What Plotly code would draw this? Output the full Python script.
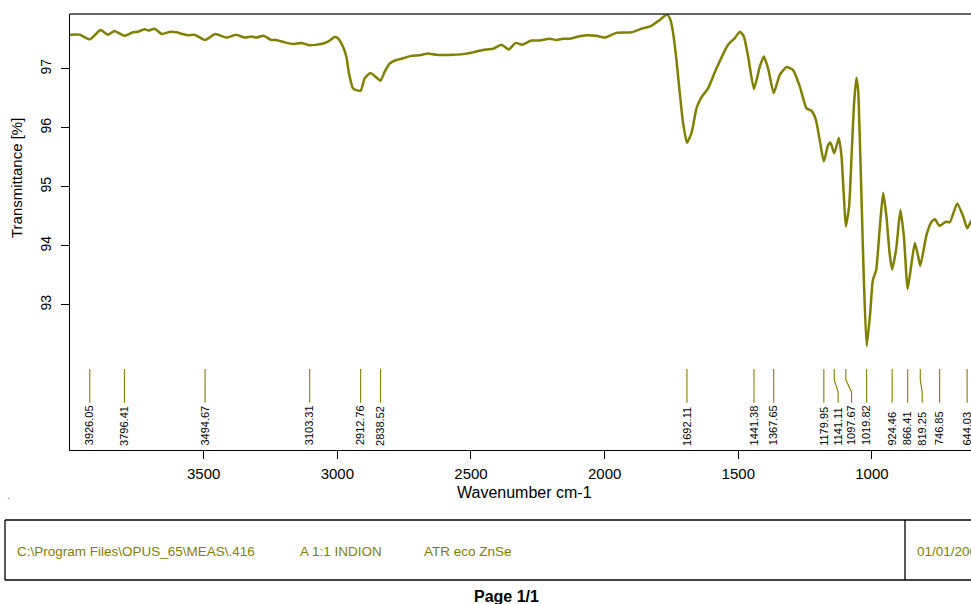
import plotly.graph_objects as go

# ---------------- data ----------------
wavenumber = [4000, 3964.4, 3926.0, 3885.9, 3858.5, 3833.5, 3796.4, 3765.0, 3746.3, 3721.2,
              3706.2, 3683.8, 3656.4, 3623.9, 3602.5, 3559.1, 3534.1, 3494.7, 3456.6, 3415.4,
              3378.0, 3346.9, 3321.9, 3303.1, 3275.8, 3247.0, 3228.3, 3197.2, 3166.2, 3134.7,
              3103.3, 3059.9, 3035.2, 3010.1, 2997.8, 2979.1, 2966.3, 2956.6, 2941.6, 2928.9,
              2912.8, 2897.8, 2876.5, 2860.4, 2838.5, 2823.0, 2804.3, 2779.2, 2754.5, 2723.1,
              2692.0, 2660.9, 2629.5, 2567.4, 2529.9, 2492.5, 2455.1, 2417.7, 2386.2, 2358.9,
              2332.7, 2307.6, 2274.0, 2242.9, 2205.5, 2180.4, 2155.7, 2130.6, 2105.6, 2068.1,
              2030.7, 1999.6, 1955.8, 1899.7, 1862.3, 1824.9, 1793.8, 1766.5, 1753.8, 1744.0,
              1731.3, 1718.9, 1706.6, 1692.1, 1675.2, 1656.4, 1637.7, 1613.1, 1581.6, 1538.2,
              1513.1, 1494.4, 1479.4, 1463.3, 1441.4, 1419.5, 1404.6, 1388.5, 1367.7, 1344.7,
              1319.6, 1294.9, 1269.8, 1244.8, 1226.1, 1210.0, 1195.0, 1180.0, 1163.9, 1155.0,
              1141.1, 1123.9, 1113.8, 1105.2, 1097.7, 1085.4, 1076.4, 1067.7, 1058.4, 1051.7,
              1045.3, 1038.9, 1030.3, 1019.8, 1006.7, 996.6, 984.3, 970.5, 958.1, 945.4,
              934.2, 924.5, 908.7, 893.7, 880.6, 866.4, 851.8, 839.5, 827.1, 819.3,
              795.7, 777.0, 764.6, 746.9, 723.4, 708.5, 681.2, 658.7, 644.0, 629.9, 615.0]
transmittance = [97.58, 97.58, 97.50, 97.66, 97.58, 97.64, 97.56, 97.62, 97.63, 97.67,
                 97.65, 97.68, 97.59, 97.63, 97.62, 97.57, 97.58, 97.49, 97.59, 97.53,
                 97.58, 97.53, 97.55, 97.53, 97.56, 97.49, 97.49, 97.45, 97.42, 97.44,
                 97.40, 97.42, 97.46, 97.54, 97.52, 97.38, 97.21, 96.93, 96.67, 96.64,
                 96.63, 96.84, 96.93, 96.88, 96.80, 96.95, 97.09, 97.15, 97.18, 97.22,
                 97.23, 97.26, 97.24, 97.24, 97.25, 97.28, 97.32, 97.34, 97.41, 97.33,
                 97.44, 97.41, 97.48, 97.48, 97.51, 97.49, 97.51, 97.51, 97.54, 97.57,
                 97.56, 97.53, 97.61, 97.62, 97.68, 97.73, 97.83, 97.92, 97.83, 97.61,
                 97.15, 96.59, 96.08, 95.75, 95.91, 96.33, 96.52, 96.67, 97.01, 97.41,
                 97.52, 97.63, 97.55, 97.21, 96.66, 97.04, 97.21, 97.01, 96.59, 96.90,
                 97.03, 96.98, 96.70, 96.33, 96.29, 96.14, 95.78, 95.43, 95.71, 95.75,
                 95.57, 95.83, 95.51, 94.84, 94.33, 94.67, 95.51, 96.36, 96.85, 96.64,
                 95.80, 94.78, 93.42, 92.30, 92.86, 93.42, 93.59, 94.32, 94.90, 94.48,
                 93.88, 93.60, 93.97, 94.61, 94.16, 93.27, 93.71, 94.05, 93.82, 93.66,
                 94.19, 94.41, 94.45, 94.34, 94.41, 94.40, 94.72, 94.50, 94.30, 94.41, 94.53]

peak_positions = [3926.05, 3796.41, 3494.67, 3103.31, 2912.76, 2838.52, 1692.11, 1441.38,
                  1367.65, 1179.95, 1141.11, 1097.67, 1019.82, 924.46, 866.41, 819.25,
                  746.85, 644.03]
peak_labels = ["3926.05", "3796.41", "3494.67", "3103.31", "2912.76", "2838.52", "1692.11",
               "1441.38", "1367.65", "1179.95", "1141.11", "1097.67", "1019.82", "924.46",
               "866.41", "819.25", "746.85", "644.03"]

x_ticks = [3500, 3000, 2500, 2000, 1500, 1000]
y_ticks = [93, 94, 95, 96, 97]

info_texts = ["C:\\Program Files\\OPUS_65\\MEAS\\.416", "A 1:1 INDION", "ATR eco ZnSe", "01/01/200"]

# ---------------- styling / layout ----------------
OLIVE = "#808000"
FONT = "Liberation Sans, Arial, sans-serif"
W, H = 971, 604
L, T, B = 70, 14, 450          # plot area pixel edges (left, top, bottom)
X_RANGE = [4000, 629.5]
Y_RANGE = [90.54, 97.93]

# labels moved aside where they would collide (label position in cm-1)
label_shift = {"1141.11": 1126.5, "1097.67": 1076.3, "819.25": 812.1}


def px(x):
    return (x - L) / (W - L)


def py(y):
    return (B - y) / (B - T)


fig = go.Figure()

fig.add_trace(go.Scatter(
    x=wavenumber, y=transmittance, mode="lines",
    line=dict(color=OLIVE, width=2.5, shape="spline", smoothing=0.5),
    hoverinfo="skip", showlegend=False))

# peak marker ticks
lx, ly = [], []
for pos, lab in zip(peak_positions, peak_labels):
    lpos = label_shift.get(lab, pos)
    if lpos == pos:
        lx += [pos, pos, None]
        ly += [91.915, 91.339, None]
    else:
        lx += [pos, pos, lpos, lpos, None]
        ly += [91.915, 91.729, 91.525, 91.339, None]
fig.add_trace(go.Scatter(x=lx, y=ly, mode="lines", line=dict(color=OLIVE, width=1.1),
                         hoverinfo="skip", showlegend=False))

annotations = []
for pos, lab in zip(peak_positions, peak_labels):
    annotations.append(dict(
        x=label_shift.get(lab, pos), y=90.6, xref="x", yref="y", text=lab,
        textangle=-90, showarrow=False, xanchor="center", yanchor="bottom",
        font=dict(family=FONT, size=11, color="black"), borderpad=0))

# axis titles
annotations.append(dict(x=px(17), y=py(178), xref="paper", yref="paper",
                        text="Transmittance [%]", textangle=-90, showarrow=False,
                        xanchor="center", yanchor="middle",
                        font=dict(family=FONT, size=15, color="black")))
annotations.append(dict(x=px(524), y=py(493), xref="paper", yref="paper",
                        text="Wavenumber cm-1", showarrow=False,
                        xanchor="center", yanchor="middle",
                        font=dict(family=FONT, size=16, color="black")))

# footer box texts
for txt, xp in zip(info_texts, [15, 298, 422, 915]):
    annotations.append(dict(x=px(xp), y=py(551), xref="paper", yref="paper", text=txt,
                            showarrow=False, xanchor="left", yanchor="middle",
                            font=dict(family=FONT, size=13.5, color=OLIVE)))
annotations.append(dict(x=px(506), y=py(596), xref="paper", yref="paper",
                        text="<b>Page 1/1</b>", showarrow=False,
                        xanchor="center", yanchor="middle",
                        font=dict(family=FONT, size=16, color="black")))
annotations.append(dict(x=px(8), y=py(495), xref="paper", yref="paper", text=".",
                        showarrow=False, xanchor="center", yanchor="middle",
                        font=dict(family=FONT, size=10, color="#666")))

shapes = [
    dict(type="line", xref="paper", yref="paper", x0=0, x1=1.05, y0=1, y1=1,
         line=dict(color="#333333", width=1.3)),
    dict(type="line", xref="paper", yref="paper", x0=px(5), x1=px(1000),
         y0=py(520), y1=py(520), line=dict(color="black", width=1.3)),
    dict(type="line", xref="paper", yref="paper", x0=px(5), x1=px(1000),
         y0=py(580), y1=py(580), line=dict(color="black", width=1.3)),
    dict(type="line", xref="paper", yref="paper", x0=px(5), x1=px(5),
         y0=py(520), y1=py(580), line=dict(color="black", width=1.3)),
    dict(type="line", xref="paper", yref="paper", x0=px(905), x1=px(905),
         y0=py(520), y1=py(580), line=dict(color="black", width=1.3)),
]

fig.update_layout(
    width=W, height=H, autosize=False,
    margin=dict(l=L, r=0, t=T, b=H - B, pad=0),
    paper_bgcolor="white", plot_bgcolor="white",
    annotations=annotations, shapes=shapes,
    xaxis=dict(range=X_RANGE, tickvals=x_ticks, ticks="outside", ticklen=8,
               tickwidth=1.2, tickcolor="black", showline=True, linecolor="black",
               linewidth=1.3, showgrid=False, zeroline=False, ticklabelstandoff=2,
               tickfont=dict(family=FONT, size=15, color="black")),
    yaxis=dict(range=Y_RANGE, tickvals=y_ticks, ticks="outside", ticklen=8,
               tickwidth=1.2, tickcolor="black", showline=True, linecolor="black",
               linewidth=1.3, showgrid=False, zeroline=False, tickangle=-90,
               ticklabelstandoff=4,
               tickfont=dict(family=FONT, size=14, color="black")),
)

fig.write_html("out.html", config={"displayModeBar": False},
               post_script="document.body.style.margin='0';document.body.style.overflow='hidden';")
